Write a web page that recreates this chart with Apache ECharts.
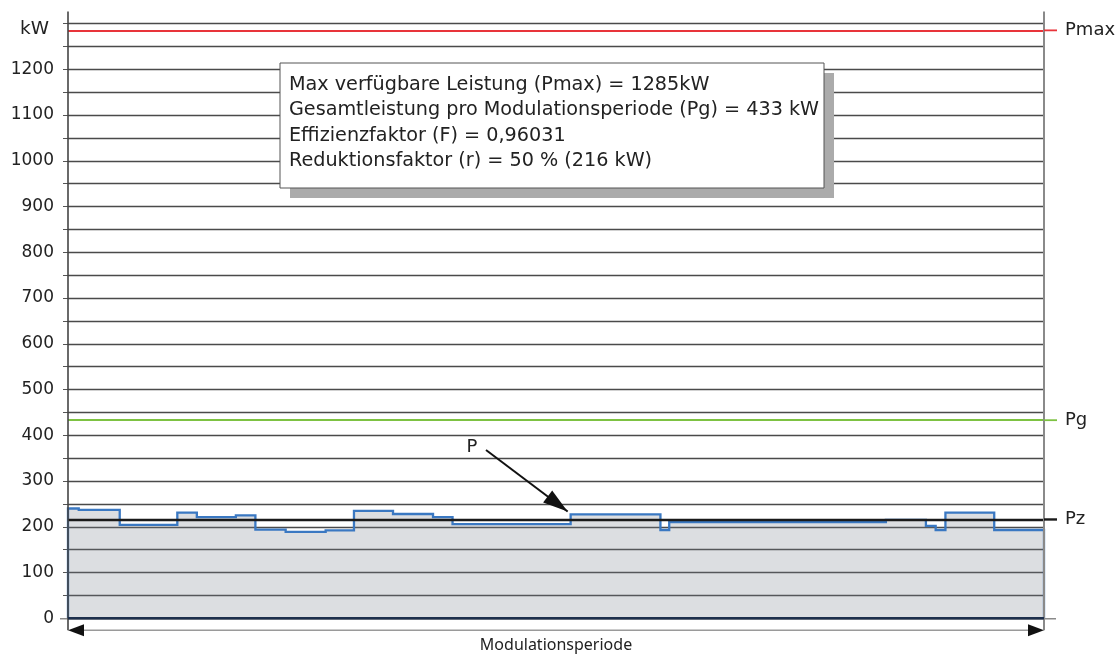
<!DOCTYPE html>
<html><head><meta charset="utf-8">
<script src="https://cdn.jsdelivr.net/npm/echarts@6/dist/echarts.min.js"></script>
<style>html,body{margin:0;padding:0;background:#fff}#c{width:1118px;height:654px}</style>
</head><body><div id="c"></div>
<script>
// Leistungsverlauf innerhalb einer Modulationsperiode
// periodStart: Beginn jedes Abschnitts in % der Periode, powerKW: Leistung des Abschnitts
const periodStart = [0, 1.1, 5.3, 11.2, 13.2, 17.2, 19.2, 22.3, 26.4, 29.3, 33.3, 37.4, 39.4, 51.5, 60.7, 61.6, 83.8, 87.9, 88.9, 89.9, 94.9];
const powerKW     = [240, 237, 204, 231, 221, 225, 194, 189, 192, 235, 228, 221, 206, 227, 193, 210, 215, 202, 193, 231, 193];
const periodEnd = 100;

// Referenzlinien
const refNames  = ['Pmax', 'Pg', 'Pz'];
const refValues = [1285, 433, 216];
const refColors = ['#e8343a', '#7dc242', '#1a1a1a'];

// Achse
const yMax = 1300, yStep = 50;
const yUnit = 'kW';
const xTitle = 'Modulationsperiode';
const pointerLabel = 'P';
const pointerIndex = 13;

const infoLines = [
  'Max verfügbare Leistung (Pmax) = 1285kW',
  'Gesamtleistung pro Modulationsperiode (Pg) = 433 kW',
  'Effizienzfaktor (F) = 0,96031',
  'Reduktionsfaktor (r) = 50 % (216 kW)'
];

const FONT = 'DejaVu Sans';

// Treppenkurve: senkrechter Sprung am Beginn jedes Abschnitts
const stepPoints = [];
periodStart.forEach((x, i) => {
  stepPoints.push([x, i === 0 ? 0 : powerKW[i - 1]]);
  stepPoints.push([x, powerKW[i]]);
});
stepPoints.push([periodEnd, powerKW[powerKW.length - 1]]);
stepPoints.push([periodEnd, 0]);

const chart = echarts.init(document.getElementById('c'), null, {renderer: 'canvas'});

const option = {
  animation: false,
  backgroundColor: '#ffffff',
  grid: {left: 68, right: 74, top: 23.5, bottom: 35.7, containLabel: false},
  xAxis: {
    type: 'value', min: 0, max: periodEnd,
    axisLine: {show: false}, axisTick: {show: false}, axisLabel: {show: false},
    splitLine: {show: false}
  },
  yAxis: {
    type: 'value', min: 0, max: yMax, interval: yStep,
    axisLine: {show: false},
    axisTick: {show: true, length: 5, lineStyle: {color: '#555', width: 1}},
    axisLabel: {
      margin: 14, fontFamily: FONT, fontSize: 17, color: '#222',
      formatter: v => (v % 100 === 0 && v < yMax) ? String(v) : ''
    },
    splitLine: {show: true, lineStyle: {color: '#4a4a4a', width: 1.3}}
  },
  series: [
    {
      type: 'custom', coordinateSystem: 'cartesian2d', data: [[0, 0]], z: 3,
      renderItem: (params, api) => {
        const pts = stepPoints.map(p => api.coord(p));
        return {
          type: 'group',
          children: [
            {type: 'polygon', shape: {points: pts}, style: {fill: 'rgba(120,126,138,0.26)'}},
            {type: 'polyline', shape: {points: pts}, style: {fill: null, stroke: '#3a78c2', lineWidth: 2.3}}
          ]
        };
      }
    },
    {
      type: 'line', data: [], z: 5,
      markLine: {
        silent: true, symbol: 'none',
        data: refValues.map((v, i) => ({
          yAxis: v,
          lineStyle: {color: refColors[i], width: i === 2 ? 2.4 : 1.8, type: 'solid'},
          label: {show: true, position: 'end', distance: 21, formatter: refNames[i],
                  fontFamily: FONT, fontSize: 18, color: '#222'}
        }))
      }
    }
  ]
};
chart.setOption(option);

// Hilfsgrafiken aus den Achsen ableiten
const px = v => chart.convertToPixel({xAxisIndex: 0}, v);
const py = v => chart.convertToPixel({yAxisIndex: 0}, v);
const x0 = px(0), x1 = px(periodEnd), yTop = py(yMax), y0 = py(0);

function arrowHead(tx, ty, fx, fy, len, half, color) {
  const dx = tx - fx, dy = ty - fy, d = Math.hypot(dx, dy);
  const ux = dx / d, uy = dy / d;
  const bx = tx - ux * len, by = ty - uy * len;
  return {type: 'polygon', z: 20, shape: {points: [[tx, ty], [bx - uy * half, by + ux * half], [bx + uy * half, by - ux * half]]},
          style: {fill: color}};
}

const g = [];
// Achsenlinien
g.push({type: 'line', z: 10, shape: {x1: x0, y1: yTop - 12, x2: x0, y2: y0 + 12}, style: {stroke: '#444', lineWidth: 1.6}});
g.push({type: 'line', z: 10, shape: {x1: x1, y1: yTop - 12, x2: x1, y2: y0 + 12}, style: {stroke: '#8a8a8a', lineWidth: 2}});
g.push({type: 'line', z: 9, shape: {x1: x0 - 8, y1: y0 + 0.5, x2: x1 + 12, y2: y0 + 0.5}, style: {stroke: '#8a8a8a', lineWidth: 1.5}});
g.push({type: 'line', z: 11, shape: {x1: x0, y1: y0, x2: x1, y2: y0}, style: {stroke: '#1d2f4c', lineWidth: 2.6}});
// Verlängerung der Referenzlinien zu den Beschriftungen
refValues.forEach((v, i) => {
  g.push({type: 'line', z: 10, shape: {x1: x1, y1: py(v), x2: x1 + 13, y2: py(v)},
          style: {stroke: refColors[i], lineWidth: i === 2 ? 2.4 : 1.8}});
});
// Einheit
g.push({type: 'text', z: 10, style: {text: yUnit, x: x0 - 19, y: yTop + 6, align: 'right', verticalAlign: 'middle',
        font: '18.5px "' + FONT + '"', fill: '#222'}});
// Periodenpfeil
const ay = y0 + 12;
g.push({type: 'line', z: 10, shape: {x1: x0 + 10, y1: ay, x2: x1 - 10, y2: ay}, style: {stroke: '#9a9a9a', lineWidth: 1.5}});
g.push(arrowHead(x0, ay, x1, ay, 16, 6, '#111'));
g.push(arrowHead(x1, ay, x0, ay, 16, 6, '#111'));
g.push({type: 'text', z: 10, style: {text: xTitle, x: (x0 + x1) / 2, y: ay + 15, align: 'center', verticalAlign: 'middle',
        font: '16px "Noto Sans"', fill: '#222'}});
// Zeiger P
const tipX = px(periodStart[pointerIndex]) - 3, tipY = py(powerKW[pointerIndex]) - 3;
const tailX = 486, tailY = 450;
g.push({type: 'line', z: 12, shape: {x1: tailX, y1: tailY, x2: tipX, y2: tipY}, style: {stroke: '#111', lineWidth: 2}});
g.push(arrowHead(tipX, tipY, tailX, tailY, 25, 7.5, '#111'));
g.push({type: 'text', z: 12, style: {text: pointerLabel, x: 472, y: 447, align: 'center', verticalAlign: 'middle',
        font: '18px "' + FONT + '"', fill: '#222'}});
// Infobox mit Schatten
const bx = 280, by = 63, bw = 544, bh = 125;
g.push({type: 'rect', z: 13, shape: {x: bx + 10, y: by + 10, width: bw, height: bh}, style: {fill: '#ababab'}});
g.push({type: 'rect', z: 14, shape: {x: bx, y: by, width: bw, height: bh}, style: {fill: '#ffffff', stroke: '#555', lineWidth: 1}});
infoLines.forEach((t, i) => {
  g.push({type: 'text', z: 15, style: {text: t, x: bx + 9, y: by + 22 + i * 25.3, verticalAlign: 'middle',
          font: '19.2px "' + FONT + '"', fill: '#222'}});
});
chart.setOption({graphic: {elements: g}});
</script>
</body></html>
